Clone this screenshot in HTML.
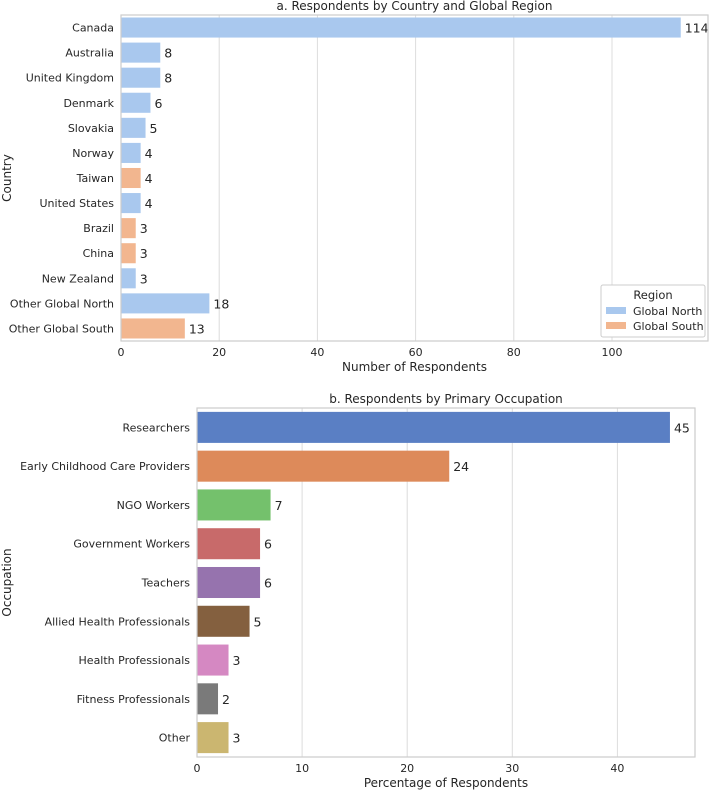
<!DOCTYPE html>
<html><head><meta charset="utf-8"><style>
body{margin:0;background:#fff}
svg text{font-family:"DejaVu Sans","Liberation Sans",sans-serif;fill:#262626}
</style></head><body>
<svg id="c" width="709" height="796" xmlns="http://www.w3.org/2000/svg"></svg>
<script>
const countries=["Canada","Australia","United Kingdom","Denmark","Slovakia","Norway","Taiwan","United States","Brazil","China","New Zealand","Other Global North","Other Global South"];
const countryValues=[114,8,8,6,5,4,4,4,3,3,3,18,13];
const countryRegion=["N","N","N","N","N","N","S","N","S","S","N","N","S"];
const countryTicks=[0,20,40,60,80,100];
const occupations=["Researchers","Early Childhood Care Providers","NGO Workers","Government Workers","Teachers","Allied Health Professionals","Health Professionals","Fitness Professionals","Other"];
const occupationValues=[45,24,7,6,6,5,3,2,3];
const occupationTicks=[0,10,20,30,40];
const occColors=["#5a7fc4","#dd8a5a","#74c16c","#c86a6a","#9673ae","#84603f","#d588c2","#7a7a7a","#cbb670"];
const svg=document.getElementById('c');const NS="http://www.w3.org/2000/svg";
function el(t,a,txt){const e=document.createElementNS(NS,t);for(const k in a)e.setAttribute(k,a[k]);if(txt!==undefined)e.textContent=txt;svg.appendChild(e);return e;}
function panel(cfg){
 const {L,R,T,B,max,cats,vals,ticks,color,title,xtitle,ytitle,fs,id}=cfg;
 const x=v=>L+v/max*(R-L);const bw=(B-T)/cats.length;
 const y=i=>T+bw*i+bw/2;
 ticks.forEach(t=>{const g=el('line',{x1:x(t),x2:x(t),y1:T,y2:B,stroke:'#dcdcdc','stroke-width':1});
 
 const tl=el('text',{x:x(t),y:B+15,'font-size':11,'text-anchor':'middle'},t);
 });
 cats.forEach((c,i)=>{
  const r=el('rect',{x:x(0),y:y(i)-bw*0.4,width:x(vals[i])-x(0),height:bw*0.8,fill:color(i)});
  
  const lab=el('text',{x:L-7,y:y(i)+4,'font-size':fs,'text-anchor':'end'},c);
  
  const v=el('text',{x:x(vals[i])+4,y:y(i)+5,'font-size':fs+1.5},vals[i]);
  
 });
 const f=el('rect',{x:L,y:T,width:R-L,height:B-T,fill:'none',stroke:'#cccccc','stroke-width':1.2});
 
 const tt=el('text',{x:(L+R)/2,y:T-5,'font-size':12,'text-anchor':'middle'},title);
 
 const xt=el('text',{x:(L+R)/2,y:B+30,'font-size':12,'text-anchor':'middle'},xtitle);
 
 const yt=el('text',{x:0,y:0,'font-size':12,'text-anchor':'middle',transform:`translate(11,${(T+B)/2}) rotate(-90)`},ytitle);
 
}
panel({id:'country',L:121,R:708,T:15,B:341,max:(708-121)/4.91,cats:countries,vals:countryValues,ticks:countryTicks,
 color:i=>countryRegion[i]==="N"?"#a9c8ee":"#f2b68f",title:"a. Respondents by Country and Global Region",xtitle:"Number of Respondents",ytitle:"Country",fs:11});
panel({id:'occupation',L:197,R:695,T:408,B:757,max:(695-197)/10.51,cats:occupations,vals:occupationValues,ticks:occupationTicks,
 color:i=>occColors[i],title:"b. Respondents by Primary Occupation",xtitle:"Percentage of Respondents",ytitle:"Occupation",fs:11});
// legend
const lg=el('rect',{x:601,y:285,width:104,height:52,fill:'#fff',stroke:'#cccccc',rx:2});

const lt=el('text',{x:653,y:299,'font-size':11.5,'text-anchor':'middle'},'Region');

[["Global North","#a9c8ee"],["Global South","#f2b68f"]].forEach((d,i)=>{
 const s=el('rect',{x:606,y:307+i*15,width:20,height:7,fill:d[1]});
 
 const t=el('text',{x:633,y:315+i*15,'font-size':11},d[0]);
 
});
</script>
</body></html>
